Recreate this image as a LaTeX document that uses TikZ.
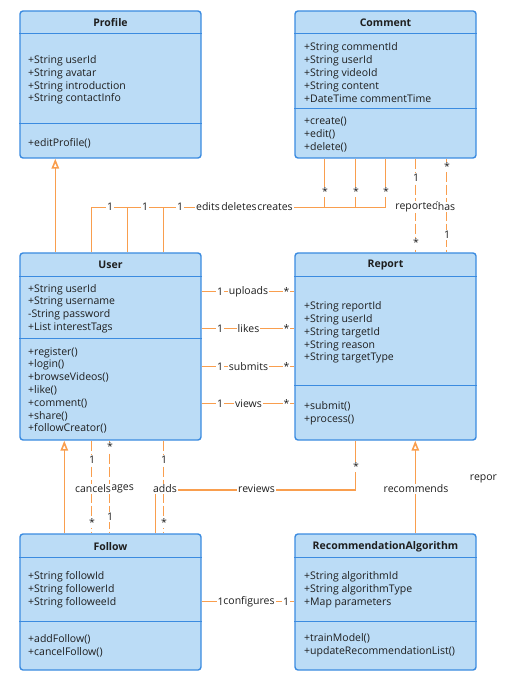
\documentclass[tikz,border=0pt]{standalone}
\usepackage{fontspec}
\setmainfont{Open Sans}
\usetikzlibrary{arrows.meta}
\definecolor{boxfill}{HTML}{BBDCF6}
\definecolor{boxline}{HTML}{3B8BE0}
\definecolor{conn}{HTML}{F99E4E}
\definecolor{ink}{HTML}{1E1E1E}
\begin{document}
\begin{tikzpicture}[x=1pt,y=-1pt,
  classbox/.style={draw=boxline, fill=boxfill, line width=1.4pt, rounded corners=3pt, minimum width=181pt, inner sep=0pt},
  divider/.style={draw=boxline, line width=1.4pt},
  hdr/.style={font=\fontsize{10.5}{12.8}\selectfont\bfseries, text=ink, inner sep=0pt},
  txt/.style={font=\fontsize{10.5}{12.8}\selectfont, text=ink, align=left, anchor=west, inner sep=0pt},
  conline/.style={draw=conn, line width=1.6pt},
  dashline/.style={draw=conn, line width=1.6pt, dash pattern=on 10pt off 3pt},
  gen/.style={draw=conn, line width=1.6pt, -{Triangle[open, length=10pt, width=7.5pt, fill=white]}},
  lab/.style={font=\fontsize{10.5}{12.8}\selectfont, text=ink, fill=white, inner sep=1pt}
]
\useasboundingbox (0,0) rectangle (510,692);

% ---------- class boxes ----------
\node[classbox, minimum height=147pt] (profile) at (110.5,84.5) {};
\node[classbox, minimum height=147pt] (comment) at (385.5,84.5) {};
\node[classbox, minimum height=187pt] (user) at (110.5,346.5) {};
\node[classbox, minimum height=187pt] (report) at (385.5,346.5) {};
\node[classbox, minimum height=136pt] (follow) at (110.5,602) {};
\node[classbox, minimum height=136pt] (recalg) at (385.5,602) {};

% dividers
\draw[divider] ([yshift=-23pt]profile.north west) -- ([yshift=-23pt]profile.north east);
\draw[divider] ([yshift=-113pt]profile.north west) -- ([yshift=-113pt]profile.north east);
\draw[divider] ([yshift=-23pt]comment.north west) -- ([yshift=-23pt]comment.north east);
\draw[divider] ([yshift=-98pt]comment.north west) -- ([yshift=-98pt]comment.north east);
\draw[divider] ([yshift=-24pt]user.north west) -- ([yshift=-24pt]user.north east);
\draw[divider] ([yshift=-86pt]user.north west) -- ([yshift=-86pt]user.north east);
\draw[divider] ([yshift=-24pt]report.north west) -- ([yshift=-24pt]report.north east);
\draw[divider] ([yshift=-133pt]report.north west) -- ([yshift=-133pt]report.north east);
\draw[divider] ([yshift=-24pt]follow.north west) -- ([yshift=-24pt]follow.north east);
\draw[divider] ([yshift=-88pt]follow.north west) -- ([yshift=-88pt]follow.north east);
\draw[divider] ([yshift=-24pt]recalg.north west) -- ([yshift=-24pt]recalg.north east);
\draw[divider] ([yshift=-88pt]recalg.north west) -- ([yshift=-88pt]recalg.north east);

% headers
\node[hdr] (h-profile) at (110.5,22.5) {Profile};
\node[hdr] (h-comment) at (385.5,22.5) {Comment};
\node[hdr] (h-user) at (110.5,265) {User};
\node[hdr] (h-report) at (385.5,265) {Report};
\node[hdr] (h-follow) at (110.5,546.5) {Follow};
\node[hdr] (h-recalg) at (385.5,546.5) {RecommendationAlgorithm};

% texts
\node[txt] (a-profile) at (28,80) {+String userId\\+String avatar\\+String introduction\\+String contactInfo};
\node[txt] (m-profile) at (28,143) {+editProfile()};
\node[txt] (a-comment) at (304,72.5) {+String commentId\\+String userId\\+String videoId\\+String content\\+DateTime commentTime};
\node[txt] (m-comment) at (304,134.5) {+create()\\+edit()\\+delete()};
\node[txt] (a-user) at (28,308.5) {+String userId\\+String username\\-String password\\+List interestTags};
\node[txt] (m-user) at (28,390.5) {+register()\\+login()\\+browseVideos()\\+like()\\+comment()\\+share()\\+followCreator()};
\node[txt] (a-report) at (304,332.5) {+String reportId\\+String userId\\+String targetId\\+String reason\\+String targetType};
\node[txt] (m-report) at (304,413) {+submit()\\+process()};
\node[txt] (a-follow) at (28,590) {+String followId\\+String followerId\\+String followeeId};
\node[txt] (m-follow) at (28,645.5) {+addFollow()\\+cancelFollow()};
\node[txt] (a-recalg) at (304,590) {+String algorithmId\\+String algorithmType\\+Map parameters};
\node[txt] (m-recalg) at (304,645.5) {+trainModel()\\+updateRecommendationList()};

% ---------- connectors ----------
% User -> Profile generalization
\draw[gen] ([xshift=36pt]user.north west) -- ([xshift=36pt]profile.south west);

% User -- Comment
\draw[conline] ([xshift=72pt]user.north west) |- ([xshift=91pt,yshift=-49pt]comment.south west) -- ([xshift=91pt]comment.south west);
\draw[conline] ([xshift=108pt]user.north west) |- ([xshift=61pt,yshift=-49pt]comment.south west) -- ([xshift=61pt]comment.south west);
\draw[conline] ([xshift=144pt]user.north west) |- ([xshift=30pt,yshift=-49pt]comment.south west) -- ([xshift=30pt]comment.south west);

% Comment -- Report
\draw[dashline] ([xshift=121pt]comment.south west) -- ([xshift=121pt]report.north west);
\draw[dashline] ([xshift=152pt]comment.south west) -- ([xshift=152pt]report.north west);

% User -- Report
\draw[conline] ([yshift=-39pt]user.north east) -- ([yshift=-39pt]report.north west);
\draw[conline] ([yshift=-76pt]user.north east) -- ([yshift=-76pt]report.north west);
\draw[conline] ([yshift=-114pt]user.north east) -- ([yshift=-114pt]report.north west);
\draw[conline] ([yshift=-151pt]user.north east) -- ([yshift=-151pt]report.north west);

% Follow -> User generalization
\draw[gen] ([xshift=45pt]follow.north west) -- ([xshift=45pt]user.south west);
% User -- Follow
\draw[dashline] ([xshift=72pt]user.south west) -- ([xshift=72pt]follow.north west);
\draw[dashline] ([xshift=90pt]user.south west) -- ([xshift=90pt]follow.north west);
\draw[dashline] ([xshift=144pt]user.south west) -- ([xshift=144pt]follow.north west);
% Follow -- Report (reviews)
\draw[conline] ([xshift=136pt]follow.north west) |- ([xshift=61pt,yshift=-49pt]report.south west) -- ([xshift=61pt]report.south west);
% RecommendationAlgorithm -> Report
\draw[gen] ([xshift=121pt]recalg.north west) -- ([xshift=121pt]report.south west);
% Follow -- RecommendationAlgorithm
\draw[conline] ([yshift=-68pt]follow.north east) -- ([yshift=-68pt]recalg.north west);

% ---------- labels ----------
\node[lab] (uc1) at (110,207) {1};
\node[lab] (uc2) at (145,207) {1};
\node[lab] (uc3) at (180,207) {1};
\node[lab] (us1) at (325,192) {*};
\node[lab] (us2) at (356,192) {*};
\node[lab] (us3) at (386,192) {*};
\node[lab] (ledits) at (208,207) {edits};
\node[lab] (ldeletes) at (239,207) {deletes};
\node[lab] (lcreates) at (275,207) {creates};

\node[lab] (cr1) at (416,178) {1};
\node[lab] (cr2) at (416,243) {*};
\node[lab] (lreported) at (417,207) {reported};
\node[lab] (ch1) at (447,167) {*};
\node[lab] (ch2) at (447,235) {1};
\node[lab] (lhas) at (446.5,207) {has};

\node[lab] (ur1) at (220,292) {1};
\node[lab] (ur2) at (286.5,292) {*};
\node[lab] (luploads) at (248.5,292) {uploads};
\node[lab] (ul1) at (220,329) {1};
\node[lab] (ul2) at (286.5,329) {*};
\node[lab] (llikes) at (248.5,329) {likes};
\node[lab] (us1b) at (220,367) {1};
\node[lab] (us2b) at (286.5,367) {*};
\node[lab] (lsubmits) at (248.5,367) {submits};
\node[lab] (uv1) at (220,404) {1};
\node[lab] (uv2) at (286.5,404) {*};
\node[lab] (lviews) at (248.5,404) {views};

\node[lab] (fc1) at (92,460) {1};
\node[lab] (fc2) at (92,523) {*};
\node[lab] (fm1) at (110,447) {*};
\node[lab] (fm2) at (110,517) {1};
\node[lab] (lmanages) at (111.5,489) {manages};
\node[lab] (lcancels) at (93,489) {cancels};
\node[lab] (fa1) at (164,460) {1};
\node[lab] (fa2) at (164,523) {*};
\node[lab] (ladds) at (165,489) {adds};
\node[lab] (rv2) at (356,467) {*};
\node[lab] (lreviews) at (256.5,489) {reviews};
\node[lab] (lrecommends) at (416,489) {recommends};
\node[lab] (lrepor) at (483.5,479) {repor};
\node[lab] (cf1) at (220.5,602) {1};
\node[lab] (lconfigures) at (249,602) {configures};
\node[lab] (cf2) at (286,602) {1};
\end{tikzpicture}
\end{document}
